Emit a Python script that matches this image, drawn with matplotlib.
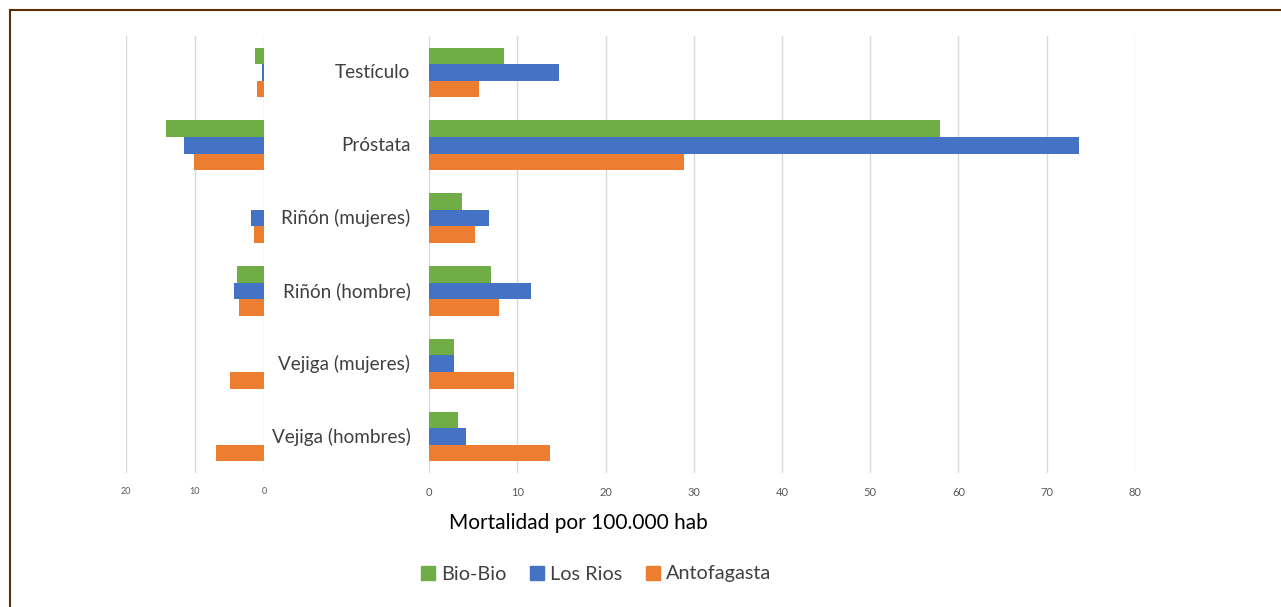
import numpy as np
import matplotlib.pyplot as plt
from matplotlib.lines import Line2D
from matplotlib.patches import Patch

# Datos
categorias = ['Testículo', 'Próstata', 'Riñón (mujeres)', 'Riñón (hombre)',
              'Vejiga (mujeres)', 'Vejiga (hombres)']
series = ['Bio-Bio', 'Los Rios', 'Antofagasta']
colores = ['#70ad47', '#4472c4', '#ed7d31']

# panel izquierdo (escala invertida 20..0)
izq_biobio = [1.3, 14.2, 0.0, 3.9, 0.0, 0.0]
izq_losrios = [0.3, 11.6, 1.9, 4.3, 0.0, 0.0]
izq_antofagasta = [1.0, 10.1, 1.4, 3.6, 4.9, 7.0]

# panel derecho (0..80)
der_biobio = [8.5, 57.9, 3.7, 7.0, 2.8, 3.3]
der_losrios = [14.7, 73.7, 6.8, 11.6, 2.8, 4.2]
der_antofagasta = [5.7, 28.9, 5.2, 7.9, 9.6, 13.7]

izq = [izq_biobio, izq_losrios, izq_antofagasta]
der = [der_biobio, der_losrios, der_antofagasta]

plt.rcParams['font.family'] = ['Lato', 'DejaVu Sans']

fig = plt.figure(figsize=(12.81, 6.07), dpi=100)
W, H = 1281, 607

def ejes(x0, x1, y0, y1):
    return fig.add_axes([x0 / W, 1 - y1 / H, (x1 - x0) / W, (y1 - y0) / H])

ax_izq = ejes(126, 264, 36, 473)
ax_der = ejes(429, 1135, 36, 473)

y = np.arange(len(categorias))
alto = 0.227
for i in range(3):
    off = (i - 1) * alto
    ax_izq.barh(y + off, izq[i], height=alto, color=colores[i])
    ax_der.barh(y + off, der[i], height=alto, color=colores[i])

for ax, lim, ticks in [(ax_izq, (20, 0), [20, 10, 0]), (ax_der, (0, 80), range(0, 81, 10))]:
    ax.set_xlim(*lim)
    ax.set_ylim(5.5, -0.5)
    ax.set_xticks(list(ticks))
    ax.set_yticks([])
    ax.grid(axis='x', color='#d9d9d9', linewidth=1)
    ax.set_axisbelow(True)
    for s in ax.spines.values():
        s.set_visible(False)
    ax.tick_params(axis='x', length=0, pad=10, colors='#595959')

ax_izq.tick_params(axis='x', labelsize=6.5)
ax_der.tick_params(axis='x', labelsize=8)

# etiquetas de categorias
for yi, cat in zip(y, categorias):
    ax_der.text(-2.1, yi, cat, ha='right', va='center', fontsize=13.6,
                color='#404040', transform=ax_der.transData)

fig.text(578 / W, 1 - 523 / H, 'Mortalidad por 100.000 hab', ha='center',
         va='center', fontsize=15, color='black')

manejadores = [Patch(color=c) for c in colores]
fig.legend(manejadores, series, loc='center', bbox_to_anchor=(596 / W, 1 - 574 / H),
           ncol=3, frameon=False, fontsize=14.3, handlelength=0.7, handleheight=0.7,
           handletextpad=0.3, columnspacing=1.2, labelcolor='#404040')

# marco del recuadro
marco = '#5b2e0a'
fig.add_artist(Line2D([10 / W, 1], [1 - 10 / H, 1 - 10 / H], color=marco, lw=1.5))
fig.add_artist(Line2D([10 / W, 10 / W], [0, 1 - 10 / H], color=marco, lw=1.5))

fig.savefig('out.png', dpi=100)
